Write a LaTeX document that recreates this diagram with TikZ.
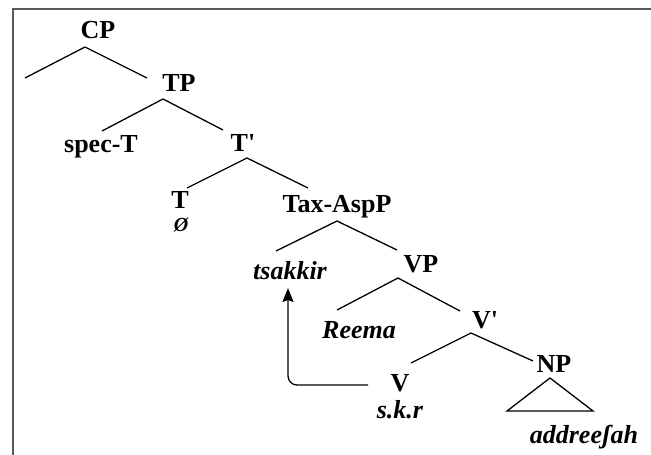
\documentclass[tikz,border=0pt]{standalone}
\usepackage{fontspec}
\setmainfont{Liberation Serif}
\usetikzlibrary{arrows.meta}
\begin{document}
\begin{tikzpicture}[x=1pt,y=-1pt,
  lab/.style={font=\fontsize{26}{28}\selectfont\bfseries, anchor=base, inner sep=0pt},
  ilab/.style={font=\fontsize{26}{28}\selectfont\bfseries\itshape, anchor=base, inner sep=0pt},
  branch/.style={line width=1.3pt, black},
  frame/.style={line width=1.2pt, black!65}]
\useasboundingbox (0,0) rectangle (651,455);
\draw[frame] (13,455) -- (13,9) -- (651,9);
% labels
\node[lab] (CP) at (98,38) {CP};
\node[lab] (TP) at (179,91) {TP};
\node[lab] (specT) at (101,152) {spec-T};
\node[lab] (Tbar) at (243,151) {T\textquotesingle};
\node[lab] (T) at (180,208) {T};
\node[ilab, font=\fontsize{20}{22}\selectfont\bfseries\itshape] (null) at (181,231) {Ø};
\node[lab] (TaxAspP) at (337,212) {Tax-AspP};
\node[ilab] (tsakkir) at (290,279) {tsakkir};
\node[lab] (VP) at (421,272) {VP};
\node[ilab] (Reema) at (359,338) {Reema};
\node[lab] (Vbar) at (485,328) {V\textquotesingle};
\node[lab] (V) at (400,391) {V};
\node[ilab] (skr) at (400,418) {s.k.r};
\node[lab] (NP) at (554,372) {NP};
\node[ilab] (addr) at (584,443) {addreeʃah};
% branch points
\coordinate (cpA) at (85,47);  \coordinate (cpL) at (25,78);  \coordinate (cpR) at (147,78);
\coordinate (tpA) at (163,99); \coordinate (tpL) at (102,131); \coordinate (tpR) at (223,130);
\coordinate (tbA) at (247,158); \coordinate (tbL) at (187,188); \coordinate (tbR) at (308,188);
\coordinate (taA) at (337,221); \coordinate (taL) at (276,251); \coordinate (taR) at (397,250);
\coordinate (vpA) at (398,278); \coordinate (vpL) at (337,310); \coordinate (vpR) at (460,311);
\coordinate (vbA) at (471,333); \coordinate (vbL) at (411,363); \coordinate (vbR) at (533,361);
\coordinate (npA) at (550,378); \coordinate (npL) at (507,411); \coordinate (npR) at (593,411);
\coordinate (mvS) at (368,385); \coordinate (mvE) at (288,288);
\draw[branch] (cpL) -- (cpA) -- (cpR);
\draw[branch] (tpL) -- (tpA) -- (tpR);
\draw[branch] (tbL) -- (tbA) -- (tbR);
\draw[branch] (taL) -- (taA) -- (taR);
\draw[branch] (vpL) -- (vpA) -- (vpR);
\draw[branch] (vbL) -- (vbA) -- (vbR);
\draw[branch] (npA) -- (npL) -- (npR) -- cycle;
\draw[branch, rounded corners=9pt, -{Stealth[length=14pt,width=11pt,inset=2pt]}] (mvS) -| (mvE);
\end{tikzpicture}
\end{document}
